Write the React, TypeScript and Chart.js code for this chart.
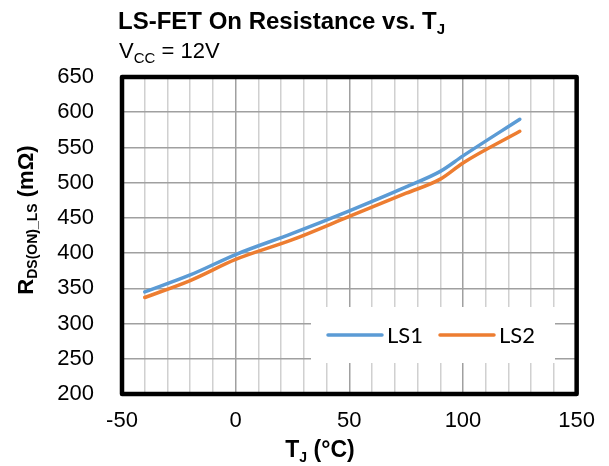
import React, { useEffect, useRef } from "react";
import { Chart, registerables } from "chart.js";

Chart.register(...registerables);

// ---- data ----
const temperatures = [-40, -20, 0, 25, 50, 75, 90, 100, 125];
const ls1Values = [345, 369, 398, 428, 460, 494, 516, 538, 590];
const ls2Values = [337, 361, 391, 419, 452, 485, 505, 528, 573];
const seriesLabels = ["LS1", "LS2"];
const seriesColors = ["#5B9BD5", "#ED7D31"];
const xMin = -50;
const xMax = 150;
const xMajorStep = 50;
const xMinorStep = 10;
const yMin = 200;
const yMax = 650;
const yStep = 50;

const FONT = '"Liberation Sans", Arial, Helvetica, sans-serif';
const LEGEND_FONT = 'Lato, "Open Sans", sans-serif';

type Part = { text: string; size: number; bold?: boolean; dy?: number };

function fontOf(p: Part) {
  return `${p.bold ? "bold " : ""}${p.size}px ${FONT}`;
}
function partsWidth(ctx: CanvasRenderingContext2D, parts: Part[]) {
  let w = 0;
  for (const p of parts) {
    ctx.font = fontOf(p);
    w += ctx.measureText(p.text).width;
  }
  return w;
}
function drawParts(ctx: CanvasRenderingContext2D, parts: Part[], x: number, y: number) {
  let cx = x;
  ctx.textAlign = "left";
  ctx.textBaseline = "alphabetic";
  for (const p of parts) {
    ctx.font = fontOf(p);
    ctx.fillText(p.text, cx, y + (p.dy || 0));
    cx += ctx.measureText(p.text).width;
  }
}

const decorPlugin = {
  id: "decor",
  beforeDatasetsDraw(chart: any) {
    const ctx: CanvasRenderingContext2D = chart.ctx;
    // legend box inside plot area
    const bx = 311, by = 307, bw = 244, bh = 56;
    ctx.save();
    ctx.fillStyle = "#FFFFFF";
    ctx.fillRect(bx, by, bw, bh);
    const cy = by + bh / 2;
    const items = chart.data.datasets.map((d: any) => ({ label: d.label, color: d.borderColor }));
    const starts = [328, 440];
    items.forEach((it: any, i: number) => {
      const sx = starts[i];
      ctx.strokeStyle = it.color;
      ctx.lineWidth = 3.5;
      ctx.lineCap = "round";
      ctx.beginPath();
      ctx.moveTo(sx, cy);
      ctx.lineTo(sx + 54, cy);
      ctx.stroke();
      ctx.fillStyle = "#000";
      ctx.font = `22px ${LEGEND_FONT}`;
      ctx.textAlign = "left";
      ctx.textBaseline = "middle";
      ctx.fillText(it.label, sx + 59, cy + 1);
    });
    ctx.restore();
  },
  afterDraw(chart: any) {
    const ctx: CanvasRenderingContext2D = chart.ctx;
    const a = chart.chartArea;
    ctx.save();
    // plot border
    ctx.strokeStyle = "#000";
    ctx.lineWidth = 4.5;
    ctx.lineJoin = "round";
    ctx.strokeRect(a.left, a.top, a.right - a.left, a.bottom - a.top);

    ctx.fillStyle = "#000";
    // chart title
    drawParts(ctx, [
      { text: "LS-FET On Resistance vs. T", size: 24, bold: true },
      { text: "J", size: 15, bold: true, dy: 5 },
    ], 118, 29);
    // subtitle
    drawParts(ctx, [
      { text: "V", size: 22 },
      { text: "CC", size: 15, dy: 5 },
      { text: " = 12V", size: 22 },
    ], 119, 58);
    // x axis title
    const xParts: Part[] = [
      { text: "T", size: 23, bold: true },
      { text: "J", size: 14, bold: true, dy: 5 },
      { text: " (°C)", size: 23, bold: true },
    ];
    const xw = partsWidth(ctx, xParts);
    drawParts(ctx, xParts, 320 - xw / 2, 457);
    // y axis title
    const yParts: Part[] = [
      { text: "R", size: 22, bold: true },
      { text: "DS(ON)_LS", size: 14, bold: true, dy: 4 },
      { text: " (mΩ)", size: 22, bold: true },
    ];
    const yw = partsWidth(ctx, yParts);
    ctx.translate(33, 220);
    ctx.rotate(-Math.PI / 2);
    drawParts(ctx, yParts, -yw / 2, 0);
    ctx.restore();
  },
};

export default function App() {
  const canvasRef = useRef<HTMLCanvasElement | null>(null);

  useEffect(() => {
    if (!canvasRef.current) return;
    const toPoints = (vals: number[]) => temperatures.map((t, i) => ({ x: t, y: vals[i] }));
    const chart = new Chart(canvasRef.current, {
      type: "line",
      data: {
        datasets: [ls1Values, ls2Values].map((vals, i) => ({
          label: seriesLabels[i],
          data: toPoints(vals),
          borderColor: seriesColors[i],
          backgroundColor: seriesColors[i],
          borderWidth: 3.5,
          pointRadius: 0,
          cubicInterpolationMode: "monotone" as const,
          borderCapStyle: "round" as const,
          fill: false,
        })),
      },
      options: {
        responsive: false,
        maintainAspectRatio: false,
        animation: false,
        devicePixelRatio: 1,
        layout: { padding: { top: 77, right: 31, left: 0, bottom: 0 } },
        plugins: {
          legend: { display: false },
          title: { display: false },
          tooltip: { enabled: false },
        },
        scales: {
          x: {
            type: "linear",
            min: xMin,
            max: xMax,
            afterFit(scale: any) {
              scale.height = 72;
            },
            ticks: {
              stepSize: xMinorStep,
              autoSkip: false,
              maxRotation: 0,
              padding: 14,
              color: "#000",
              font: { family: FONT, size: 22 },
              callback: (v: any) => (Number(v) % xMajorStep === 0 ? String(v) : ""),
            },
            grid: {
              drawTicks: false,
              lineWidth: 1.5,
              color: (c: any) => (c.tick && c.tick.value % xMajorStep === 0 ? "#A0A0A0" : "#D0D0D0"),
            },
            border: { display: false },
          },
          y: {
            type: "linear",
            min: yMin,
            max: yMax,
            afterFit(scale: any) {
              scale.width = 122;
            },
            ticks: {
              stepSize: yStep,
              padding: 28,
              color: "#000",
              font: { family: FONT, size: 22 },
            },
            grid: {
              drawTicks: false,
              lineWidth: 1.5,
              color: "#A0A0A0",
            },
            border: { display: false },
          },
        },
      },
      plugins: [decorPlugin],
    });
    return () => chart.destroy();
  }, []);

  return (
    <div style={{ position: "absolute", left: 0, top: 0, width: 609, height: 466, background: "#fff" }}>
      <canvas ref={canvasRef} width={609} height={466} />
    </div>
  );
}
